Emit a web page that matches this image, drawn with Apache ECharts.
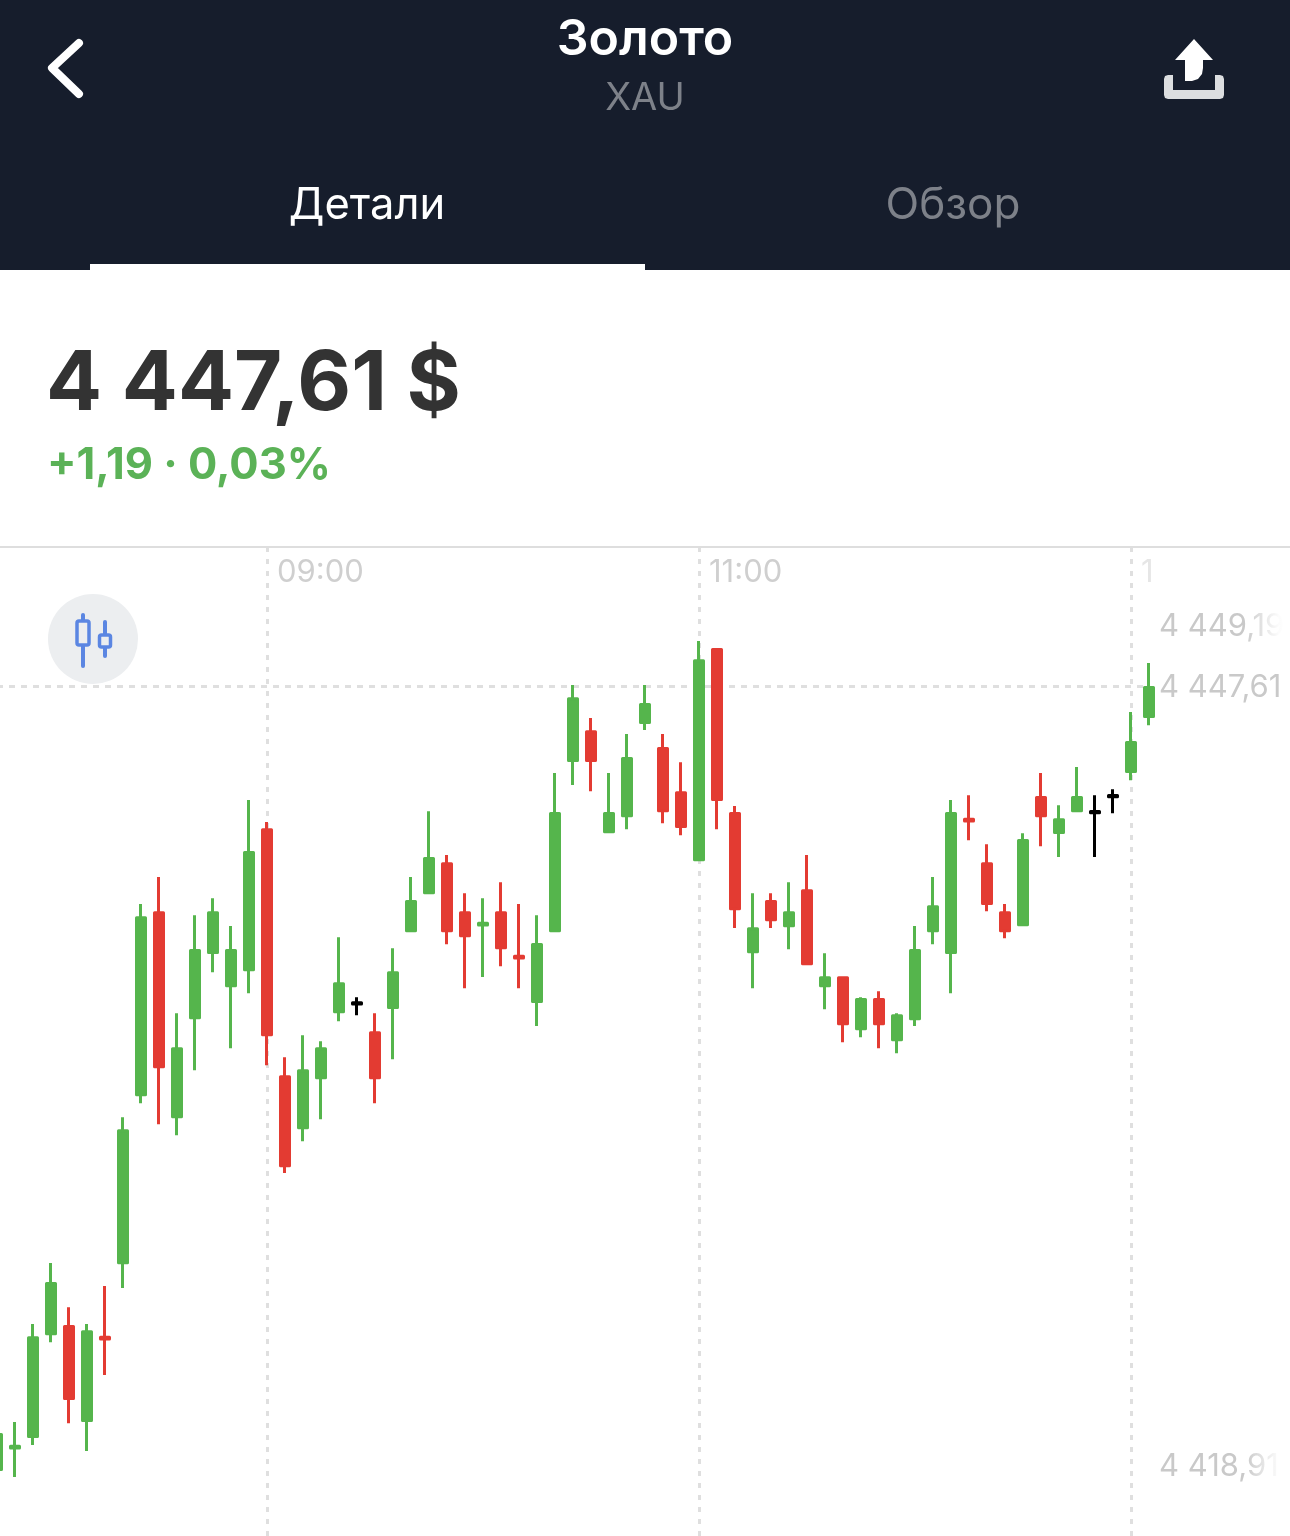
<!DOCTYPE html>
<html><head><meta charset="utf-8">
<style>html,body{margin:0;padding:0;background:#fff}#c{width:1290px;height:1536px}</style>
<script src="https://cdn.jsdelivr.net/npm/echarts@6/dist/echarts.min.js"></script>
</head><body><div id="c"></div>
<script>
const times=['07:45','07:50','07:55','08:00','08:05','08:10','08:15','08:20','08:25','08:30','08:35','08:40','08:45','08:50','08:55',
'09:00','09:05','09:10','09:15','09:20','09:25','09:30','09:35','09:40','09:45','09:50','09:55','10:00','10:05','10:10','10:15','10:20','10:25','10:30','10:35','10:40','10:45','10:50','10:55',
'11:00','11:05','11:10','11:15','11:20','11:25','11:30','11:35','11:40','11:45','11:50','11:55','12:00','12:05','12:10','12:15','12:20','12:25','12:30','12:35','12:40','12:45','12:50','12:55',
'13:00','13:05','13:10','13:15','13:20','13:25','13:30','13:35','13:40','13:45'];
const opens=[4420.12,4420.88,4421.28,4424.89,4425.14,4421.84,4424.76,4427.38,4433.27,4439.66,4432.50,4435.97,4438.26,4437.10,4437.66,4442.57,4433.90,4432.11,4433.87,4436.18,4436.46,4435.45,4436.33,4439.03,4440.36,4441.38,4439.66,4439.23,4439.66,4438.13,4436.54,4439.03,4445.00,4446.01,4442.50,4443.06,4446.33,4445.42,4443.87,4441.52,4448.89,4443.14,4438.29,4440.05,4439.20,4440.43,4437.10,4437.38,4435.59,4436.61,4435.20,4435.94,4439.03,4438.26,4442.94,4441.38,4439.66,4439.24,4443.70,4442.47,4443.24,4443.17,4443.73,4444.61,4446.54];
const closes=[4421.35,4420.94,4424.75,4426.65,4422.61,4424.96,4424.70,4432.01,4439.48,4434.25,4434.89,4438.33,4439.66,4438.33,4441.77,4435.38,4430.78,4434.11,4434.89,4437.17,4436.50,4433.87,4437.55,4440.05,4441.56,4439.03,4438.85,4439.29,4438.43,4438.07,4438.54,4443.14,4447.17,4445.00,4443.14,4445.07,4446.96,4443.24,4442.68,4448.50,4443.63,4439.80,4439.10,4439.41,4439.66,4437.87,4437.38,4435.76,4436.61,4435.76,4436.04,4438.33,4439.87,4443.14,4442.88,4439.98,4439.03,4442.19,4443.06,4442.92,4443.70,4443.21,4443.77,4445.63,4447.56];
const lows=[4419.75,4419.86,4420.98,4424.59,4421.75,4420.77,4423.44,4426.49,4432.97,4432.24,4431.85,4434.13,4437.57,4434.90,4436.83,4434.31,4430.53,4431.64,4432.41,4435.85,4436.06,4432.97,4434.52,4438.98,4440.31,4438.55,4437.01,4437.40,4437.78,4437.01,4435.68,4438.98,4444.14,4443.92,4442.45,4442.59,4446.07,4442.80,4442.38,4441.47,4442.59,4439.12,4437.01,4439.12,4438.38,4437.82,4436.27,4435.11,4435.29,4434.90,4434.73,4435.68,4438.55,4436.83,4442.20,4439.71,4438.76,4439.19,4441.99,4441.61,4443.19,4441.61,4443.15,4444.31,4446.24];
const highs=[4421.68,4421.79,4425.23,4427.37,4425.82,4425.23,4426.56,4432.48,4439.96,4440.91,4436.13,4439.57,4440.17,4439.19,4443.61,4442.84,4434.59,4435.36,4435.15,4438.80,4436.69,4436.13,4438.41,4440.91,4443.22,4441.68,4440.34,4440.17,4440.73,4439.96,4439.57,4444.56,4447.65,4446.49,4444.56,4445.93,4447.65,4445.93,4444.94,4449.19,4448.94,4443.40,4440.34,4440.34,4440.73,4441.68,4438.24,4437.43,4436.69,4436.90,4436.13,4439.19,4440.91,4443.61,4443.78,4442.06,4439.96,4442.45,4444.56,4443.43,4444.77,4443.78,4443.99,4446.70,4448.42];
const blackCandles=['09:25','12:50','12:55'];
const tickTimes=['09:00','11:00','13:00'];
const tickLabels=['09:00','11:00','1'];
const lastPrice=4447.61;
const priceLabels=['4 449,19','4 447,61','4 418,91'];

const UP='#55b54c',DOWN='#e33b32',INK='#000000';
const NAVY='#161d2c',GRID='#dfdfdf',FONT='Inter, Roboto, sans-serif';
const chart=echarts.init(document.getElementById('c'),null,{renderer:'canvas'});
const isTick=(i,v)=>tickTimes.includes(v);
const candles=opens.map((o,i)=>{
  const value=[o,closes[i],lows[i],highs[i]];
  return blackCandles.includes(times[i])
    ?{value,itemStyle:{color:INK,color0:INK,borderColor:INK,borderColor0:INK}}
    :{value};
});
const txt=(text,x,y,size,weight,fill,align)=>({type:'text',silent:true,z:20,
  style:{text,x,y,fill,font:`${weight} ${size}px ${FONT}`,textAlign:align||'left',textVerticalAlign:'middle'}});
const fade=(x,y,w,h)=>({type:'rect',silent:true,z:21,shape:{x,y,width:w,height:h},
  style:{fill:new echarts.graphic.LinearGradient(0,0,1,0,[{offset:0,color:'rgba(255,255,255,0)'},{offset:0.75,color:'rgba(255,255,255,0.95)'},{offset:1,color:'#fff'}])}});
chart.setOption({
  animation:false,
  backgroundColor:'#ffffff',
  grid:{left:-3,top:547,width:1296,height:989,containLabel:false,outerBoundsMode:'none'},
  xAxis:{type:'category',position:'top',boundaryGap:false,data:times,
    axisLine:{show:true,lineStyle:{color:'#dedede',width:2}},
    axisTick:{show:false},
    axisLabel:{show:true,inside:true,interval:isTick,align:'left',margin:10,
      padding:[0,0,0,10],fontFamily:FONT,fontSize:31,
      color:v=>v==='13:00'?'#e6e6e6':'#cfcfcf',
      formatter:v=>tickLabels[tickTimes.indexOf(v)]||''},
    splitLine:{show:true,interval:isTick,lineStyle:{color:GRID,width:3,type:[5,7]}}},
  yAxis:{type:'value',min:4417.79,max:4452.49,show:false,splitLine:{show:false}},
  series:[{type:'candlestick',name:'XAU',z:3,barWidth:9,
    itemStyle:{color:UP,color0:DOWN,borderColor:UP,borderColor0:DOWN,borderWidth:3,borderJoin:'round'},
    data:candles,
    markLine:{silent:true,symbol:'none',z:1,animation:false,label:{show:false},
      lineStyle:{color:GRID,width:3,type:[6,6]},
      data:[[{coord:[0,lastPrice]},{coord:[64,lastPrice]}]]}}],
  graphic:[
    {type:'rect',silent:true,z:10,shape:{x:0,y:0,width:1290,height:270},style:{fill:NAVY}},
    {type:'rect',silent:true,z:11,shape:{x:90,y:264,width:555,height:6},style:{fill:'#ffffff'}},
    {type:'polyline',silent:true,z:11,shape:{points:[[79,43],[52,68],[79,94]]},
      style:{stroke:'#ffffff',fill:null,lineWidth:8,lineCap:'round',lineJoin:'round'}},
    {type:'polygon',silent:true,z:11,shape:{points:[[1194,39],[1213,60],[1203,60],[1203,68],[1202,74],[1198,79],[1192,81],[1185,81],[1185,60],[1175,60]]},style:{fill:'#ffffff'}},
    {type:'polygon',silent:true,z:11,shape:{points:[[1168,75],[1173,75],[1173,90],[1215,90],[1215,75],[1220,75],[1223,76],[1224,79],[1224,95],[1223,98],[1220,99],[1168,99],[1165,98],[1164,95],[1164,79],[1165,76]]},style:{fill:'#dcdee0'}},
    txt('Золото',645,40,50,600,'#ffffff','center'),
    txt('XAU',645,99,38,400,'#7d8189','center'),
    txt('Детали',367,206,43.5,400,'#ffffff','center'),
    txt('Обзор',953,206,44,400,'#7d8189','center'),
    txt('4 447,61 $',46,385,83,700,'#333333'),
    txt('+1,19 · 0,03%',47,466,43.5,650,'#5bb257'),
    {type:'circle',silent:true,z:11,shape:{cx:93,cy:639,r:45},style:{fill:'#eceef0'}},
    {type:'line',silent:true,z:12,shape:{x1:83,y1:615,x2:83,y2:666},style:{stroke:'#5b86e2',lineWidth:4,lineCap:'round'}},
    {type:'rect',silent:true,z:13,shape:{x:77,y:621,width:12,height:24,r:2},style:{fill:'#eceef0',stroke:'#5b86e2',lineWidth:3.5}},
    {type:'line',silent:true,z:12,shape:{x1:105,y1:622,x2:105,y2:656},style:{stroke:'#5b86e2',lineWidth:4,lineCap:'round'}},
    {type:'rect',silent:true,z:13,shape:{x:99.5,y:635,width:11,height:12,r:2},style:{fill:'#eceef0',stroke:'#5b86e2',lineWidth:3.5}},
    txt(priceLabels[0],1159,627,31,400,'#c9c9c9'),
    txt(priceLabels[1],1159,688,31,400,'#c9c9c9'),
    txt(priceLabels[2],1159,1467,31,400,'#c9c9c9'),
    fade(1245,605,45,40),
    fade(1245,1445,45,40)
  ]
});
</script></body></html>
